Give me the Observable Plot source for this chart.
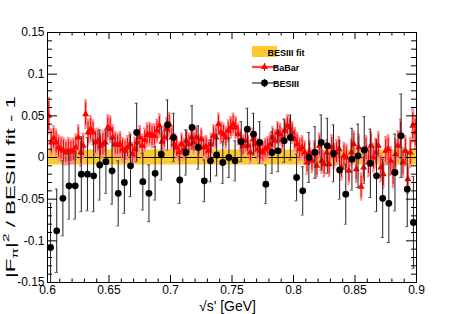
<!DOCTYPE html>
<html><head><meta charset="utf-8">
<script src="https://cdn.jsdelivr.net/npm/d3@7"></script>
<script src="https://cdn.jsdelivr.net/npm/@observablehq/plot@0.6"></script>
<style>
html,body{margin:0;padding:0;background:#fff;}
#chart{width:463px;height:314px;}
</style></head><body><div id="chart"></div>
<script>
// BESIII points (sqrt(s') bin centres, ratio - 1, error)
const besX = [0.6025,0.6075,0.6125,0.6175,0.6225,0.6275,0.6325,0.6375,0.6425,0.6475,
0.6525,0.6575,0.6625,0.6675,0.6725,0.6775,0.6825,0.6875,0.6925,0.6975,
0.7025,0.7075,0.7125,0.7175,0.7225,0.7275,0.7325,0.7375,0.7425,0.7475,
0.7525,0.7575,0.7625,0.7675,0.7725,0.7775,0.7825,0.7875,0.7925,0.7975,
0.8025,0.8075,0.8125,0.8175,0.8225,0.8275,0.8325,0.8375,0.8425,0.8475,
0.8525,0.8575,0.8625,0.8675,0.8725,0.8775,0.8825,0.8875,0.8925,0.8975];
const besY = [-0.108,-0.088,-0.049,-0.034,-0.034,-0.020,-0.020,-0.022,-0.009,-0.005,
-0.016,-0.043,-0.030,-0.010,0.030,-0.029,-0.043,-0.019,0.004,0.039,
0.024,-0.027,0.006,0.036,0.012,-0.028,-0.004,0.003,-0.006,0.000,
-0.004,0.019,0.034,0.028,0.018,-0.032,0.006,0.008,0.020,0.024,
-0.024,-0.040,0.000,0.006,0.018,0.014,0.005,-0.015,-0.044,-0.002,
0.002,0.009,-0.007,-0.022,-0.049,-0.055,-0.018,0.026,-0.038,-0.078];
const besErr = [0.053,0.050,0.045,0.040,0.040,0.045,0.044,0.043,0.042,0.038,
0.040,0.039,0.037,0.037,0.035,0.034,0.034,0.032,0.031,0.030,
0.029,0.028,0.027,0.026,0.026,0.025,0.025,0.025,0.025,0.024,
0.024,0.024,0.025,0.025,0.025,0.023,0.025,0.025,0.026,0.027,
0.028,0.029,0.030,0.031,0.033,0.033,0.034,0.035,0.036,0.037,
0.038,0.040,0.041,0.043,0.047,0.047,0.046,0.050,0.045,0.055];

// BaBar points
const babarX = [0.601,0.603,0.605,0.607,0.609,0.611,0.613,0.615,0.617,0.619,
0.621,0.623,0.625,0.627,0.629,0.631,0.633,0.635,0.637,0.639,
0.641,0.643,0.645,0.647,0.649,0.651,0.653,0.655,0.657,0.659,
0.661,0.663,0.665,0.667,0.669,0.671,0.673,0.675,0.677,0.679,
0.681,0.683,0.685,0.687,0.689,0.691,0.693,0.695,0.697,0.699,
0.701,0.703,0.705,0.707,0.709,0.711,0.713,0.715,0.717,0.719,
0.721,0.723,0.725,0.727,0.729,0.731,0.733,0.735,0.737,0.739,
0.741,0.743,0.745,0.747,0.749,0.751,0.753,0.755,0.757,0.759,
0.761,0.763,0.765,0.767,0.769,0.771,0.773,0.775,0.777,0.779,
0.781,0.783,0.785,0.787,0.789,0.791,0.793,0.795,0.797,0.799,
0.801,0.803,0.805,0.807,0.809,0.811,0.813,0.815,0.817,0.819,
0.821,0.823,0.825,0.827,0.829,0.831,0.833,0.835,0.837,0.839,
0.841,0.843,0.845,0.847,0.849,0.851,0.853,0.855,0.857,0.859,
0.861,0.863,0.865,0.867,0.869,0.871,0.873,0.875,0.877,0.879,
0.881,0.883,0.885,0.887,0.889,0.891,0.893,0.895,0.897,0.899];
const babarY = [0.050,0.018,0.023,0.018,0.012,0.010,0.008,0.006,0.008,0.007,
0.008,0.012,0.024,0.006,0.014,0.052,0.030,0.034,0.030,0.018,
0.020,0.014,0.016,0.018,0.036,0.034,0.024,0.016,0.015,0.016,
0.010,0.008,0.012,0.016,0.004,0.010,0.018,0.024,0.014,0.021,
0.027,0.028,0.026,0.026,0.032,0.038,0.019,0.024,0.034,0.040,
0.024,0.016,0.012,0.006,0.016,0.010,0.020,0.016,0.024,0.018,
0.024,0.014,0.022,0.012,0.013,0.008,0.016,0.026,0.024,0.040,
0.030,0.028,0.024,0.032,0.036,0.040,0.036,0.028,0.020,0.014,
0.020,0.014,0.006,0.022,0.016,0.010,0.008,0.006,0.010,0.012,
0.016,0.024,0.020,0.030,0.028,0.022,0.032,0.038,0.036,0.030,
0.022,0.016,0.010,0.012,0.006,-0.006,0.006,-0.004,0.006,-0.010,
0.014,-0.004,-0.008,0.006,-0.008,0.012,0.002,0.006,0.010,-0.012,
0.002,0.000,-0.016,0.006,0.016,-0.014,0.012,-0.035,-0.012,0.010,
-0.006,0.014,0.000,0.006,0.014,-0.012,-0.020,0.008,0.010,-0.004,
-0.018,0.004,0.014,0.028,-0.006,0.008,-0.026,0.006,0.038,0.030];
const babarErr = [0.022,0.016,0.015,0.016,0.015,0.015,0.016,0.015,0.016,0.015,
0.015,0.016,0.015,0.016,0.015,0.017,0.016,0.016,0.015,0.016,
0.015,0.015,0.016,0.015,0.015,0.016,0.015,0.015,0.014,0.015,
0.014,0.014,0.014,0.014,0.014,0.014,0.014,0.014,0.014,0.014,
0.014,0.014,0.014,0.014,0.014,0.014,0.014,0.014,0.014,0.014,
0.014,0.013,0.013,0.013,0.013,0.013,0.013,0.013,0.013,0.013,
0.013,0.013,0.013,0.013,0.013,0.013,0.013,0.013,0.013,0.013,
0.013,0.013,0.013,0.013,0.013,0.013,0.013,0.013,0.013,0.013,
0.013,0.013,0.013,0.013,0.013,0.013,0.013,0.013,0.013,0.013,
0.013,0.013,0.013,0.013,0.013,0.013,0.013,0.013,0.013,0.013,
0.014,0.014,0.014,0.014,0.014,0.014,0.014,0.014,0.014,0.014,
0.015,0.015,0.015,0.015,0.015,0.015,0.015,0.015,0.015,0.015,
0.016,0.016,0.016,0.016,0.016,0.016,0.016,0.016,0.016,0.016,
0.017,0.017,0.017,0.017,0.017,0.017,0.017,0.017,0.017,0.017,
0.018,0.018,0.018,0.018,0.018,0.018,0.018,0.018,0.020,0.020];

const fitHalfWidth = [0.009];
const xMajor = [0.6,0.65,0.7,0.75,0.8,0.85,0.9];
const xMinor = [0.61,0.62,0.63,0.64,0.66,0.67,0.68,0.69,0.71,0.72,0.73,0.74,0.76,0.77,0.78,0.79,0.81,0.82,0.83,0.84,0.86,0.87,0.88,0.89];
const yMajor = [-0.15,-0.1,-0.05,0,0.05,0.1,0.15];
const yMinor = [-0.14,-0.13,-0.12,-0.11,-0.09,-0.08,-0.07,-0.06,-0.04,-0.03,-0.02,-0.01,0.01,0.02,0.03,0.04,0.06,0.07,0.08,0.09,0.11,0.12,0.13,0.14];

const bes = besX.map((x,i)=>({x, y:besY[i], e:besErr[i]}));
const babar = babarX.map((x,i)=>({x, y:babarY[i], e:babarErr[i]}));

const fmt = d => String(+d.toFixed(2));
const W = 463, H = 314, mL = 47, mR = 47, mT = 32, mB = 32;
const fw = W - mL - mR, fh = H - mT - mB;

const plot = Plot.plot({
  width: W, height: H, marginLeft: mL, marginRight: mR, marginTop: mT, marginBottom: mB,
  style: {fontFamily: "'Liberation Sans', Arial, sans-serif", fontSize: "12px", background: "#fff", color: "#000"},
  x: {domain: [0.6, 0.9]},
  y: {domain: [-0.15, 0.15]},
  marks: [
    Plot.rect(fitHalfWidth, {x1: () => 0.6, x2: () => 0.9, y1: d => -d, y2: d => d, fill: "#fdc931"}),
    Plot.ruleY([0], {stroke: "#000", strokeWidth: 1}),
    // BaBar error bars (total, light) and stat (red)
    Plot.ruleX(babar, {x: "x", y1: d => d.y - d.e, y2: d => d.y + d.e, stroke: "#ff8c8c", strokeWidth: 2.5, clip: true}),
    Plot.ruleY(babar, {y: d => d.y + d.e, x1: d => d.x - 0.0009, x2: d => d.x + 0.0009, stroke: "#ff8c8c", strokeWidth: 1.5, clip: true}),
    Plot.ruleY(babar, {y: d => d.y - d.e, x1: d => d.x - 0.0009, x2: d => d.x + 0.0009, stroke: "#ff8c8c", strokeWidth: 1.5, clip: true}),
    Plot.ruleX(babar, {x: "x", y1: d => d.y - d.e * 0.8, y2: d => d.y + d.e * 0.8, stroke: "#ff0000", strokeWidth: 1, clip: true}),
    Plot.dot(babar, {x: "x", y: "y", symbol: "triangle", r: 2.6, fill: "#ff0000", stroke: "none", clip: true}),
    // BESIII
    Plot.ruleX(bes, {x: "x", y1: d => d.y - d.e, y2: d => d.y + d.e, stroke: "#222", strokeWidth: 1, clip: true}),
    Plot.ruleY(bes, {y: d => d.y + d.e, x1: d => d.x - 0.0012, x2: d => d.x + 0.0012, stroke: "#555", strokeWidth: 1, clip: true}),
    Plot.ruleY(bes, {y: d => d.y - d.e, x1: d => d.x - 0.0012, x2: d => d.x + 0.0012, stroke: "#555", strokeWidth: 1, clip: true}),
    Plot.dot(bes, {x: "x", y: "y", r: 3.4, fill: "#000", stroke: "none", clip: true}),
    // ticks inside the frame (ROOT style)
    Plot.tickX(xMajor, {x: d => d, insetTop: fh - 7, stroke: "#000"}),
    Plot.tickX(xMinor, {x: d => d, insetTop: fh - 3.5, stroke: "#000"}),
    Plot.tickX(xMajor, {x: d => d, insetBottom: fh - 7, stroke: "#000"}),
    Plot.tickX(xMinor, {x: d => d, insetBottom: fh - 3.5, stroke: "#000"}),
    Plot.tickY(yMajor, {y: d => d, insetRight: fw - 10, stroke: "#000"}),
    Plot.tickY(yMinor, {y: d => d, insetRight: fw - 5, stroke: "#000"}),
    Plot.tickY(yMajor, {y: d => d, insetLeft: fw - 10, stroke: "#000"}),
    Plot.tickY(yMinor, {y: d => d, insetLeft: fw - 5, stroke: "#000"}),
    Plot.axisX(xMajor, {tickSize: 0, tickPadding: 3, tickFormat: fmt, label: null, fontSize: 12}),
    Plot.axisY(yMajor, {tickSize: 0, tickPadding: 3, tickFormat: fmt, label: null, fontSize: 12}),
    Plot.frame({stroke: "#000", strokeWidth: 1})
  ]
});
document.getElementById("chart").appendChild(plot);

const svg = d3.select(plot);
const ff = "'Liberation Sans', Arial, sans-serif";
// y title
const yt = svg.append("text").attr("transform", "translate(15,187) rotate(-90)")
  .attr("text-anchor", "middle").attr("font-family", ff).attr("font-size", 13).attr("fill", "#000")
  .attr("textLength", 182).attr("lengthAdjust", "spacingAndGlyphs");
yt.append("tspan").text("|F");
yt.append("tspan").attr("dy", 3).attr("font-size", 9).text("π");
yt.append("tspan").attr("dy", -3).text("|");
yt.append("tspan").attr("dy", -6).attr("font-size", 9).text("2");
yt.append("tspan").attr("dy", 6).text(" / BESIII fit - 1");
// x title
svg.append("text").attr("x", mL + fw / 2 - 4).attr("y", 311).attr("text-anchor", "middle")
  .attr("font-family", ff).attr("font-size", 14).attr("fill", "#000").text("√s' [GeV]");

// legend
const lg = svg.append("g").attr("font-family", ff).attr("font-size", 9).attr("font-weight", "bold").attr("fill", "#000");
const lx0 = 252, lx1 = 277, tx = 286;
lg.append("rect").attr("x", lx0).attr("y", 46).attr("width", lx1 - lx0).attr("height", 11).attr("fill", "#fdc931");
lg.append("text").attr("x", tx).attr("y", 55.5).text("BESIII fit");
lg.append("line").attr("x1", lx0).attr("x2", lx1).attr("y1", 67).attr("y2", 67).attr("stroke", "#ff8c8c").attr("stroke-width", 2.5);
lg.append("line").attr("x1", lx0).attr("x2", lx1).attr("y1", 67).attr("y2", 67).attr("stroke", "#ff0000").attr("stroke-width", 1);
lg.append("line").attr("x1", (lx0+lx1)/2).attr("x2", (lx0+lx1)/2).attr("y1", 63).attr("y2", 71).attr("stroke", "#ff0000").attr("stroke-width", 1);
lg.append("path").attr("d", d3.symbol(d3.symbolTriangle, 21)()).attr("transform", `translate(${(lx0+lx1)/2},67)`).attr("fill", "#ff0000");
lg.append("text").attr("x", tx).attr("y", 70.5).text("BaBar");
lg.append("line").attr("x1", lx0).attr("x2", lx1).attr("y1", 83).attr("y2", 83).attr("stroke", "#000").attr("stroke-width", 1);
lg.append("line").attr("x1", (lx0+lx1)/2).attr("x2", (lx0+lx1)/2).attr("y1", 79).attr("y2", 87).attr("stroke", "#000").attr("stroke-width", 1);
lg.append("circle").attr("cx", (lx0+lx1)/2).attr("cy", 83).attr("r", 3.4).attr("fill", "#000");
lg.append("text").attr("x", tx).attr("y", 86.5).text("BESIII");
</script></body></html>
